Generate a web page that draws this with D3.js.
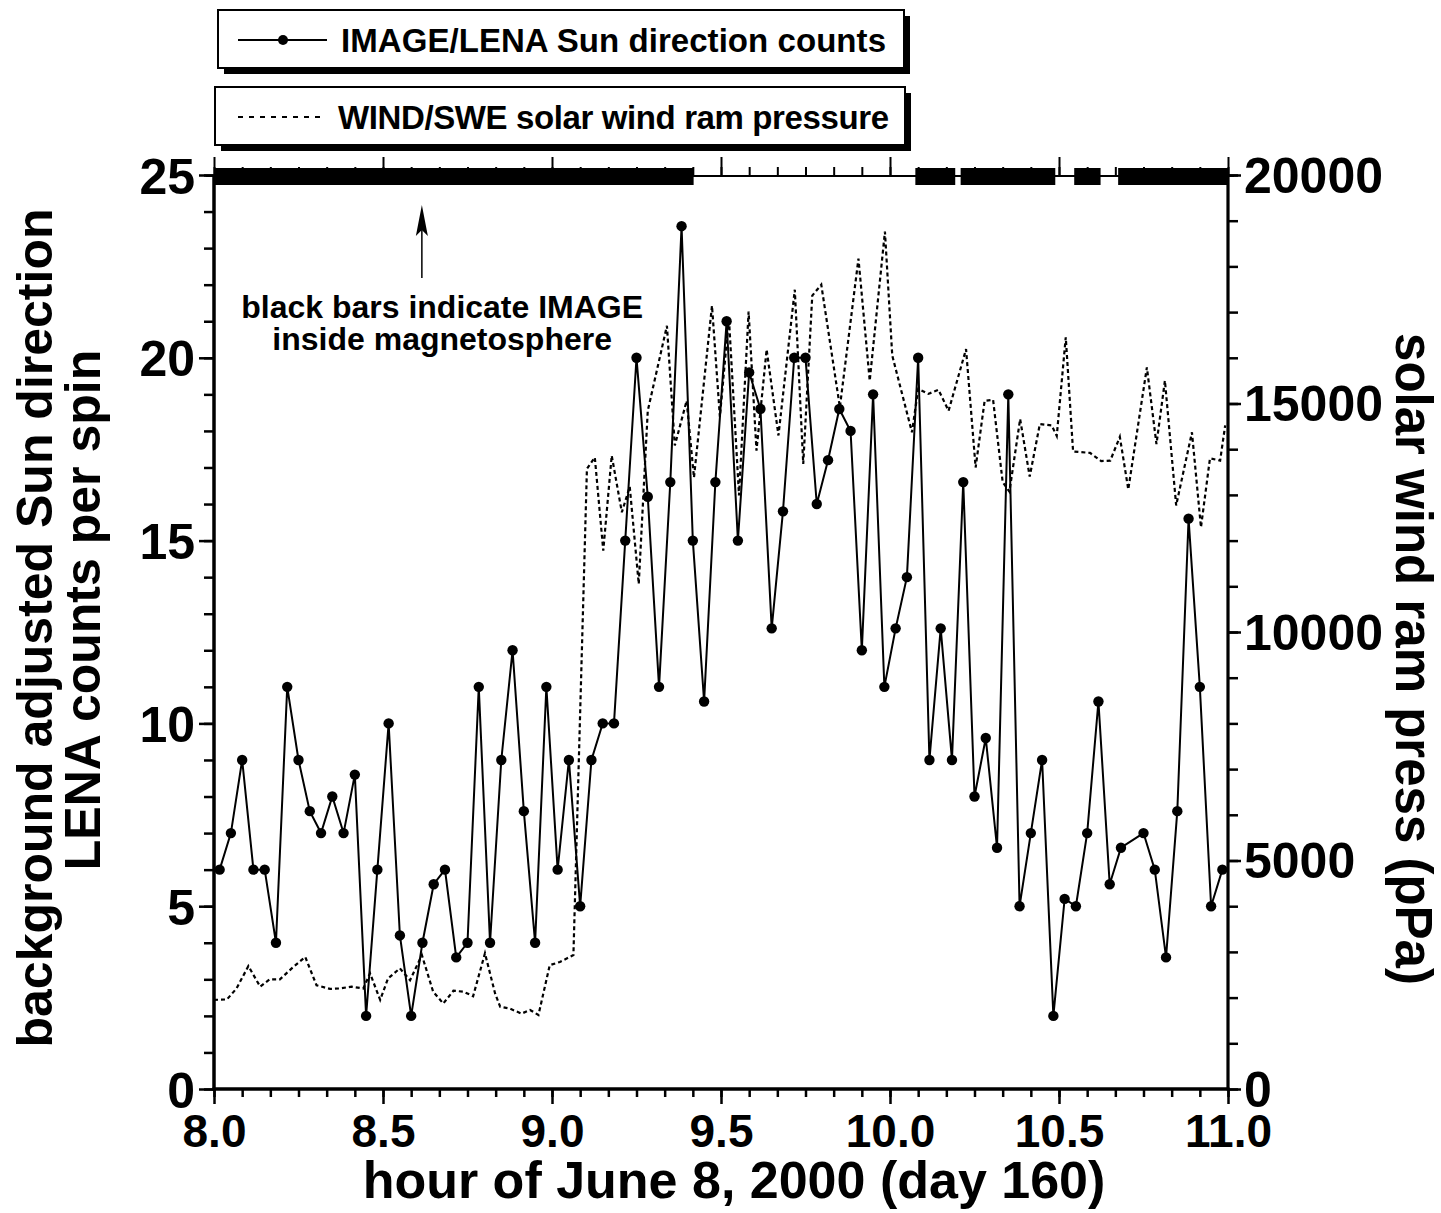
<!DOCTYPE html>
<html><head><meta charset="utf-8">
<script src="https://cdn.jsdelivr.net/npm/d3@7"></script>
<style>
html,body{margin:0;padding:0;background:#fff;}
svg text{font-family:"Liberation Sans",Arial,Helvetica,sans-serif;font-weight:bold;fill:#000;}
</style></head><body>
<svg id="chart" width="1441" height="1213"></svg>
<script>
// ---------- data ----------
// IMAGE/LENA Sun direction counts, minutes after 08:00 UT
const countMinutes = [1,3,5,7,9,11,13,15,17,19,21,23,25,27,29,31,33,35,37,39,41,43,45,47,49,51,53,55,57,59,
  61,63,65,67,69,71,73,75,77,79,81,83,85,87,89,91,93,95,97,99,101,103,105,107,109,111,113,115,117,119,
  121,123,125,127,129,131,133,135,137,139,141,143,145,147,149,151,153,155,157,159,161,165,167,169,171,173,175,177,179];
const countValues = [6,7,9,6,6,4,11,9,7.6,7,8,7,8.6,2,6,10,4.2,2,4,5.6,6,3.6,4,11,4,9,12,7.6,4,11,
  6,9,5,9,10,10,15,20,16.2,11,16.6,23.6,15,10.6,16.6,21,15,19.6,18.6,12.6,15.8,20,20,16,17.2,18.6,18,12,19,11,
  12.6,14,20,9,12.6,9,16.6,8,9.6,6.6,19,5,7,9,2,5.2,5,7,10.6,5.6,6.6,7,6,3.6,7.6,15.6,11,5,6];

// WIND/SWE solar wind ram pressure (pPa), minutes after 08:00 UT
const pressureMinutes = [0,2.3,4.0,6.1,8.2,9.9,11.7,13.8,16.2,18.2,20.6,22.4,24.4,26.5,27.7,29.5,30.9,33.0,34.8,36.9,
  38.9,40.7,42.5,44.3,46.0,48.1,49.9,50.8,52.5,54.6,56.1,57.6,59.6,61.4,63.8,66.2,67.6,69.1,70.6,72.4,
  73.8,75.4,77.0,80.4,81.8,83.9,85.2,88.4,89.8,91.4,93.2,94.9,96.3,98.1,100.2,103.1,104.6,106.2,107.8,111.1,
  114.4,116.4,119.1,120.4,123.9,125.0,126.8,128.6,130.4,133.5,135.2,136.8,138.3,140.0,141.2,143.1,144.8,146.6,148.7,149.6,
  151.2,152.5,155.5,157.5,159.1,160.8,162.3,165.6,167.3,168.8,170.8,173.6,175.2,176.8,178.6,179.5];
const pressureValues = [1950,1960,2200,2690,2240,2400,2400,2640,2890,2270,2190,2200,2240,2200,2530,1950,2420,2640,2380,2930,
  2130,1870,2150,2130,2030,2970,2090,1800,1760,1650,1730,1620,2710,2780,2930,13570,13820,11780,13860,12620,
  13180,11050,14840,16700,14080,15060,13380,17140,14710,16880,12990,17010,13970,16180,14300,17490,13680,17360,17600,14920,
  18170,15500,18760,16050,14370,15320,15210,15300,14840,16190,13600,15060,15080,13280,13070,14660,13400,14550,14520,14290,
  16450,13950,13920,13740,13750,14270,13120,15790,14110,15500,12770,14370,12290,13800,13750,14520];

// intervals (hours) with IMAGE inside the magnetosphere
const magnetoStart = [8.0, 10.075, 10.209, 10.545, 10.675];
const magnetoEnd   = [9.419, 10.193, 10.489, 10.623, 11.0];

// axes
const xMajorTicks = [8.0, 8.5, 9.0, 9.5, 10.0, 10.5, 11.0];
const xTickLabels = ["8.0","8.5","9.0","9.5","10.0","10.5","11.0"];
const yLeftTicks = [0,5,10,15,20,25];
const yLeftLabels = ["0","5","10","15","20","25"];
const yRightTicks = [0,5000,10000,15000,20000];
const yRightLabels = ["0","5000","10000","15000","20000"];

const legendLabels = ["IMAGE/LENA  Sun  direction  counts", "WIND/SWE  solar  wind  ram  pressure"];
const xTitle = "hour of June 8, 2000 (day 160)";
const yLeftTitle = ["background adjusted Sun direction", "LENA counts per spin"];
const yRightTitle = "solar wind ram press (pPa)";
const noteLines = ["black bars indicate IMAGE", "inside magnetosphere"];

// ---------- drawing ----------
const svg = d3.select("#chart");
const FONT = '"Liberation Sans",Arial,Helvetica,sans-serif';

const x = d3.scaleLinear().domain([8, 11]).range([214, 1228]);
const yL = d3.scaleLinear().domain([0, 25]).range([1089, 175]);
const yR = d3.scaleLinear().domain([0, 20000]).range([1089, 175]);

const counts = countMinutes.map((m, i) => ({h: 8 + m / 60, v: countValues[i]}));
const pressure = pressureMinutes.map((m, i) => ({h: 8 + m / 60, v: pressureValues[i]}));

// pressure (dashed)
svg.append("path")
  .datum(pressure)
  .attr("fill", "none").attr("stroke", "#000").attr("stroke-width", 2.2)
  .attr("stroke-dasharray", "4,3")
  .attr("d", d3.line().x(d => x(d.h)).y(d => yR(d.v)));

// counts (solid with dots)
svg.append("path")
  .datum(counts)
  .attr("fill", "none").attr("stroke", "#000").attr("stroke-width", 2)
  .attr("d", d3.line().x(d => x(d.h)).y(d => yL(d.v)));
svg.append("g").selectAll("circle").data(counts).join("circle")
  .attr("cx", d => x(d.h)).attr("cy", d => yL(d.v)).attr("r", 5.2).attr("fill", "#000");

// axes helper
function axisGroup(axis, transform, width) {
  const g = svg.append("g").attr("transform", transform).call(axis);
  g.select(".domain").remove();
  g.attr("font-family", FONT).attr("font-size", null);
  g.selectAll(".tick line").attr("stroke", "#000").attr("stroke-width", width || 2.5);
  return g;
}
const xMinor = d3.range(0, 37).map(i => 8 + i / 12);
const yLMinor = d3.range(0, 26);
const yRMinor = d3.range(0, 21).map(i => i * 1000);

// bottom axis
axisGroup(d3.axisBottom(x).tickValues(xMinor).tickSize(8).tickFormat(""), `translate(0,${yL(0)})`);
const gb = axisGroup(d3.axisBottom(x).tickValues(xMajorTicks).tickSize(15).tickPadding(10)
  .tickFormat((d, i) => xTickLabels[i]), `translate(0,${yL(0)})`);
gb.selectAll("text").attr("font-size", 46).attr("font-weight", "bold");

// top axis
axisGroup(d3.axisTop(x).tickValues(xMinor).tickSize(9).tickFormat(""), `translate(0,176)`, 2);
axisGroup(d3.axisTop(x).tickValues(xMajorTicks).tickSize(19).tickFormat(""), `translate(0,176)`, 2);

// left axis
axisGroup(d3.axisLeft(yL).tickValues(yLMinor).tickSize(10).tickFormat(""), `translate(${x(8)},0)`);
const gl = axisGroup(d3.axisLeft(yL).tickValues(yLeftTicks).tickSize(15).tickPadding(4)
  .tickFormat((d, i) => yLeftLabels[i]), `translate(${x(8)},0)`);
gl.selectAll("text").attr("font-size", 50).attr("dy", "0.36em");

// right axis
axisGroup(d3.axisRight(yR).tickValues(yRMinor).tickSize(10).tickFormat(""), `translate(${x(11)},0)`);
const gr = axisGroup(d3.axisRight(yR).tickValues(yRightTicks).tickSize(13).tickPadding(3)
  .tickFormat((d, i) => yRightLabels[i]), `translate(${x(11)},0)`);
gr.selectAll("text").attr("font-size", 50).attr("dy", "0.34em");

// frame lines
svg.append("line").attr("x1", x(8)).attr("x2", x(8)).attr("y1", yL(25)).attr("y2", yL(0) + 1.5)
  .attr("stroke", "#000").attr("stroke-width", 3.5);
svg.append("line").attr("x1", x(8) - 1.5).attr("x2", x(11) + 1.5).attr("y1", yL(0)).attr("y2", yL(0))
  .attr("stroke", "#000").attr("stroke-width", 3.5);
svg.append("line").attr("x1", x(11)).attr("x2", x(11)).attr("y1", 176).attr("y2", yL(0) + 1.5)
  .attr("stroke", "#000").attr("stroke-width", 3.2);
svg.append("line").attr("x1", x(8) - 8).attr("x2", x(11) + 6).attr("y1", 176).attr("y2", 176)
  .attr("stroke", "#000").attr("stroke-width", 2.2);

// black bars (IMAGE inside magnetosphere)
svg.append("g").selectAll("rect").data(magnetoStart).join("rect")
  .attr("x", (d, i) => x(d)).attr("width", (d, i) => x(magnetoEnd[i]) - x(d))
  .attr("y", 168).attr("height", 17).attr("fill", "#000");

// annotation + arrow
const noteX = x(8.675);
svg.append("text").attr("x", noteX).attr("y", 318).attr("text-anchor", "middle")
  .attr("font-size", 32).text(noteLines[0]);
svg.append("text").attr("x", noteX).attr("y", 350).attr("text-anchor", "middle")
  .attr("font-size", 32).text(noteLines[1]);
const arrowX = x(8.615);
svg.append("line").attr("x1", arrowX).attr("x2", arrowX).attr("y1", 278).attr("y2", 225)
  .attr("stroke", "#000").attr("stroke-width", 1.5);
svg.append("path").attr("d", `M${arrowX},205 L${arrowX - 6},236 L${arrowX},230 L${arrowX + 6},236 Z`)
  .attr("fill", "#000");

// axis titles
svg.append("text").attr("x", 734).attr("y", 1198).attr("text-anchor", "middle")
  .attr("font-size", 52).text(xTitle);
svg.append("text").attr("transform", "translate(52,628) rotate(-90)").attr("text-anchor", "middle")
  .attr("font-size", 50).text(yLeftTitle[0]);
svg.append("text").attr("transform", "translate(100,610) rotate(-90)").attr("text-anchor", "middle")
  .attr("font-size", 50).text(yLeftTitle[1]);
svg.append("text").attr("transform", "translate(1396,659) rotate(90)").attr("text-anchor", "middle")
  .attr("font-size", 51).text(yRightTitle);

// legend boxes
function legendBox(x0, y0, w, h) {
  svg.append("rect").attr("x", x0 + 6).attr("y", y0 + 6).attr("width", w).attr("height", h).attr("fill", "#000");
  svg.append("rect").attr("x", x0).attr("y", y0).attr("width", w).attr("height", h)
    .attr("fill", "#fff").attr("stroke", "#000").attr("stroke-width", 2);
}
legendBox(218, 10, 686, 58);
legendBox(215, 87, 690, 58);
svg.append("line").attr("x1", 238).attr("x2", 327).attr("y1", 40).attr("y2", 40)
  .attr("stroke", "#000").attr("stroke-width", 2);
svg.append("circle").attr("cx", 283).attr("cy", 40).attr("r", 5).attr("fill", "#000");
svg.append("text").attr("x", 341).attr("y", 52).attr("font-size", 33)
  .attr("textLength", 545).attr("lengthAdjust", "spacing").text(legendLabels[0]);
svg.append("line").attr("x1", 238).attr("x2", 323).attr("y1", 117).attr("y2", 117)
  .attr("stroke", "#000").attr("stroke-width", 2).attr("stroke-dasharray", "5,6");
svg.append("text").attr("x", 338).attr("y", 129).attr("font-size", 33)
  .attr("textLength", 551).attr("lengthAdjust", "spacing").text(legendLabels[1]);
</script>
</body></html>
